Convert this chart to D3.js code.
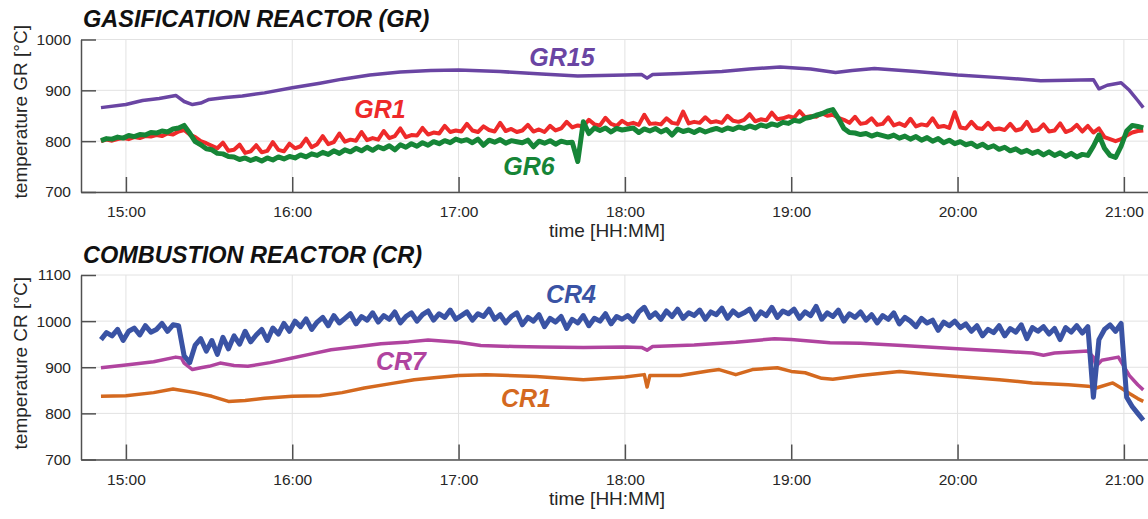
<!DOCTYPE html>
<html>
<head>
<meta charset="utf-8">
<script src="https://cdn.jsdelivr.net/npm/d3@7"></script>
<style>
body { margin: 0; background: #fff; }
text { font-family: "Liberation Sans", Arial, sans-serif; }
</style>
</head>
<body>
<script>
//sampling of the noisy logger channels (every 2 min from 14:51)
var sampleStart = "14:51";
var sampleStepMin = 2;

//gasification reactor, noisy channels
var gr1 = [800, 803, 801, 804, 806, 804, 808, 806, 810, 809,
	812, 810, 815, 813, 819, 822, 813, 808, 800, 796,
	791, 786, 797, 781, 783, 793, 777, 780, 792, 778,
	781, 798, 783, 780, 795, 786, 790, 805, 788, 794,
	810, 794, 798, 815, 799, 803, 801, 818, 802, 806,
	803, 820, 806, 810, 825, 808, 812, 811, 826, 813,
	817, 815, 830, 818, 821, 819, 834, 821, 818, 829,
	822, 819, 836, 820, 824, 818, 821, 832, 819, 823,
	818, 830, 821, 825, 838, 827, 831, 829, 842, 833,
	831, 846, 834, 830, 840, 833, 836, 832, 852, 834,
	835, 833, 845, 836, 834, 858, 835, 838, 836, 847,
	837, 839, 836, 850, 840, 838, 842, 853, 839, 843,
	841, 856, 843, 845, 849, 846, 859, 847, 849, 848,
	855, 850, 852, 846, 842, 836, 848, 834, 836, 845,
	832, 834, 847, 831, 835, 830, 844, 829, 833, 831,
	845, 828, 830, 826, 857, 827, 825, 838, 826, 824,
	836, 823, 825, 822, 834, 821, 824, 838, 820, 822,
	833, 819, 821, 835, 818, 822, 832, 819, 830, 817,
	825, 808, 804, 800, 804, 811, 817, 820, 821];
var gr6 = [801, 805, 804, 808, 806, 811, 809, 813, 812, 817,
	816, 820, 818, 824, 826, 831, 816, 799, 793, 785,
	783, 776, 775, 770, 769, 764, 767, 762, 766, 761,
	767, 763, 769, 765, 770, 767, 773, 769, 775, 772,
	778, 774, 781, 776, 783, 779, 786, 781, 788, 782,
	789, 785, 791, 783, 793, 788, 795, 790, 797, 792,
	799, 795, 801, 797, 804, 800, 803, 797, 804, 792,
	802, 798, 803, 796, 801, 799, 797, 802, 789, 800,
	796, 801, 794, 800, 797, 798, 760, 838, 815, 826,
	821, 826, 818, 825, 822, 824, 826, 817, 824, 820,
	825, 818, 823, 812, 824, 819, 822, 817, 823, 818,
	822, 825, 821, 826, 823, 828, 825, 830, 826, 832,
	829, 834, 831, 837, 835, 841, 839, 845, 847, 851,
	854, 859, 862, 845, 825, 817, 816, 813, 815, 810,
	814, 811, 808, 812, 806, 810, 804, 809, 802, 807,
	800, 805, 797, 802, 795, 799, 793, 796, 789, 794,
	787, 791, 784, 788, 781, 785, 778, 782, 776, 780,
	773, 779, 772, 777, 770, 776, 769, 774, 772, 790,
	812, 786, 772, 768, 790, 820, 831, 829, 826];

//combustion reactor, noisy channel
var cr4 = [960, 975, 968, 982, 958, 978, 985, 970, 990, 976,
	982, 995, 978, 992, 990, 925, 910, 948, 962, 935,
	958, 928, 965, 940, 968, 950, 978, 955, 970, 982,
	958, 985, 972, 995, 978, 1000, 988, 1005, 982, 998,
	1008, 990, 1012, 996, 1006, 1016, 994, 1010, 1002, 1018,
	998, 1012, 1004, 1020, 996, 1010, 1018, 1000, 1014, 1022,
	1002, 1016, 1008, 1024, 1004, 1012, 1020, 1002, 1016, 1010,
	1026, 1004, 1014, 996, 1010, 1018, 992, 1008, 1000, 1014,
	988, 1006, 998, 1010, 984, 1004, 996, 1012, 990, 1006,
	1000, 1016, 994, 1010, 1004, 1012, 1000, 1020, 1030, 1008,
	1018, 1004, 1022, 1010, 1026, 1006, 1018, 1012, 1024, 1004,
	1020, 1014, 1028, 1006, 1022, 1012, 1018, 1026, 1004, 1020,
	1012, 1030, 1008, 1022, 1016, 1026, 1006, 1020, 1012, 1032,
	1004, 1018, 1010, 1024, 1000, 1016, 1008, 1020, 1002, 1014,
	996, 1012, 1004, 1018, 994, 1008, 1000, 988, 1006, 996,
	1002, 980, 998, 990, 1000, 986, 994, 978, 990, 968,
	982, 975, 990, 968, 984, 976, 992, 962, 986, 978,
	988, 972, 984, 960, 986, 976, 990, 974, 988, 835,
	960, 982, 992, 978, 995, 835, 815, 800, 785];

//smooth channels, read at their turning points
var gr15Times = ["14:51", "15:00", "15:06", "15:12", "15:18", "15:21", "15:24", "15:27", "15:30", "15:36",
	"15:42", "15:50", "16:00", "16:10", "16:18", "16:28", "16:39", "16:50", "17:00", "17:15",
	"17:30", "17:43", "18:00", "18:06", "18:08", "18:10", "18:20", "18:35", "18:45", "18:56",
	"19:07", "19:16", "19:22", "19:30", "19:45", "20:00", "20:15", "20:30", "20:40", "20:49",
	"20:51", "20:54", "20:59", "21:02", "21:05", "21:07"];
var gr15 = [866, 872, 880, 884, 890, 878, 872, 875, 882, 886,
	889, 895, 905, 914, 922, 930, 936, 939, 940, 937,
	932, 928, 930, 931, 924, 931, 933, 937, 942, 946,
	942, 935, 939, 943, 937, 930, 925, 919, 920, 921,
	903, 910, 915, 900, 880, 866];

var cr7Times = ["14:51", "15:00", "15:10", "15:18", "15:20", "15:21", "15:24", "15:27", "15:30", "15:34",
	"15:39", "15:44", "15:52", "16:00", "16:07", "16:14", "16:24", "16:32", "16:42", "16:49",
	"17:00", "17:08", "17:20", "17:30", "17:45", "18:00", "18:06", "18:08", "18:10", "18:25",
	"18:40", "18:54", "19:00", "19:14", "19:25", "19:40", "20:00", "20:15", "20:27", "20:31",
	"20:35", "20:47", "20:49", "20:50", "20:52", "20:58", "21:02", "21:05", "21:07"];
var cr7 = [899, 905, 912, 922, 920, 909, 895, 899, 902, 909,
	904, 902, 910, 920, 929, 938, 945, 951, 955, 959,
	954, 947, 945, 944, 943, 944, 943, 937, 945, 948,
	954, 962, 960, 953, 952, 947, 940, 935, 931, 926,
	931, 935, 922, 902, 915, 922, 882, 862, 851];

var cr1Times = ["14:51", "15:00", "15:10", "15:17", "15:25", "15:31", "15:37", "15:43", "15:50", "16:00",
	"16:10", "16:18", "16:26", "16:35", "16:44", "16:52", "17:00", "17:10", "17:28", "17:45",
	"18:00", "18:07", "18:08", "18:09", "18:20", "18:30", "18:34", "18:40", "18:46", "18:55",
	"19:00", "19:05", "19:11", "19:15", "19:25", "19:39", "19:50", "20:00", "20:15", "20:27",
	"20:40", "20:47", "20:50", "20:56", "20:59", "21:02", "21:05", "21:07"];
var cr1 = [837, 838, 845, 853, 845, 837, 826, 828, 833, 837,
	838, 845, 855, 864, 873, 878, 882, 884, 880, 873,
	879, 884, 857, 882, 882, 892, 895, 884, 895, 899,
	891, 888, 876, 874, 882, 891, 885, 880, 873, 866,
	862, 859, 855, 866, 855, 843, 832, 826];

var grTicks = [700, 800, 900, 1000];
var crTicks = [700, 800, 900, 1000, 1100];

var parseT = d3.timeParse("%H:%M");
var parseS = d3.timeParse("%H:%M:%S");
var t0 = parseT(sampleStart);
function sampled(values) {
	return values.map(function(v, i) {
		return { t: new Date(t0.getTime() + i * sampleStepMin * 60000), v: v };
	});
}
function timed(times, values) {
	return values.map(function(v, i) { return { t: parseT(times[i]), v: v }; });
}

var svg = d3.select("body").append("svg")
	.attr("width", 1148)
	.attr("height", 519);

var left = 81, right = 1148;
var x = d3.scaleTime()
	.domain([parseS("14:43:48"), parseS("21:08:42")])
	.range([left, right]);
var hours = x.ticks(d3.timeHour.every(1));

var panels = [
	{ title: "GASIFICATION REACTOR (GR)", titleY: 27, top: 39.5, bottom: 192, domain: [700, 1000], ticks: grTicks,
	  ylabel: "temperature GR [\u00B0C]",
	  series: [
		{ data: timed(gr15Times, gr15), color: "#6a45a3", label: "GR15", lx: 562, ly: 66, w: 3.5 },
		{ data: sampled(gr1), color: "#ee2a2a", label: "GR1", lx: 380, ly: 118, w: 4 },
		{ data: sampled(gr6), color: "#168537", label: "GR6", lx: 529, ly: 175, w: 5 }
	  ] },
	{ title: "COMBUSTION REACTOR (CR)", titleY: 263, top: 275, bottom: 459.5, domain: [700, 1100], ticks: crTicks,
	  ylabel: "temperature CR [\u00B0C]",
	  series: [
		{ data: timed(cr1Times, cr1), color: "#d4691f", label: "CR1", lx: 526, ly: 407, w: 3.5 },
		{ data: timed(cr7Times, cr7), color: "#b0449f", label: "CR7", lx: 401, ly: 370, w: 3.5 },
		{ data: sampled(cr4), color: "#3a53a4", label: "CR4", lx: 571, ly: 303, w: 5 }
	  ] }
];

panels.forEach(function(p) {
	var g = svg.append("g");
	var y = d3.scaleLinear().domain(p.domain).range([p.bottom, p.top]);

	//grid
	g.selectAll(".hgrid").data(p.ticks).enter().append("line")
		.attr("x1", left).attr("x2", right)
		.attr("y1", function(d) { return y(d); })
		.attr("y2", function(d) { return y(d); })
		.attr("stroke", "#e2e2e2").attr("stroke-width", 1);
	g.selectAll(".vgrid").data(hours).enter().append("line")
		.attr("x1", function(d) { return x(d); })
		.attr("x2", function(d) { return x(d); })
		.attr("y1", p.top).attr("y2", p.bottom)
		.attr("stroke", "#e2e2e2").attr("stroke-width", 1);

	//series
	var line = d3.line()
		.x(function(d) { return x(d.t); })
		.y(function(d) { return y(d.v); });
	p.series.forEach(function(s) {
		g.append("path")
			.datum(s.data)
			.attr("d", line)
			.attr("fill", "none")
			.attr("stroke", s.color)
			.attr("stroke-width", s.w)
			.attr("stroke-linejoin", "round");
	});
	p.series.forEach(function(s) {
		g.append("text")
			.attr("x", s.lx).attr("y", s.ly)
			.attr("text-anchor", "middle")
			.attr("font-size", 25)
			.attr("font-weight", "bold")
			.attr("font-style", "italic")
			.attr("fill", s.color)
			.text(s.label);
	});

	//axes
	var yAxis = g.append("g")
		.attr("transform", "translate(" + left + ",0)")
		.call(d3.axisLeft(y).tickValues(p.ticks).tickFormat(d3.format("d"))
			.tickSizeInner(-15).tickSizeOuter(0).tickPadding(10));
	var xAxis = g.append("g")
		.attr("transform", "translate(0," + p.bottom + ")")
		.call(d3.axisBottom(x).ticks(d3.timeHour.every(1)).tickFormat(d3.timeFormat("%H:%M"))
			.tickSizeInner(-15).tickSizeOuter(0).tickPadding(14));
	[yAxis, xAxis].forEach(function(a) {
		a.select(".domain").attr("stroke", "#505050").attr("stroke-width", 1.5);
		a.selectAll(".tick line").attr("stroke", "#505050").attr("stroke-width", 1.5);
		a.selectAll(".tick text")
			.attr("fill", "#262626")
			.attr("font-size", 15.5)
			.attr("font-family", "Liberation Sans, Arial, sans-serif");
	});

	//labels
	g.append("text")
		.attr("x", 83).attr("y", p.titleY)
		.attr("font-size", 23.5)
		.attr("font-weight", "bold")
		.attr("font-style", "italic")
		.attr("fill", "#111")
		.text(p.title);
	g.append("text")
		.attr("transform", "translate(27," + ((p.top + p.bottom) / 2 - 4) + ") rotate(-90)")
		.attr("text-anchor", "middle")
		.attr("font-size", 19)
		.attr("fill", "#262626")
		.text(p.ylabel);
	g.append("text")
		.attr("x", 607).attr("y", p.bottom + 45)
		.attr("text-anchor", "middle")
		.attr("font-size", 19)
		.attr("fill", "#262626")
		.text("time [HH:MM]");
});
</script>
</body>
</html>
